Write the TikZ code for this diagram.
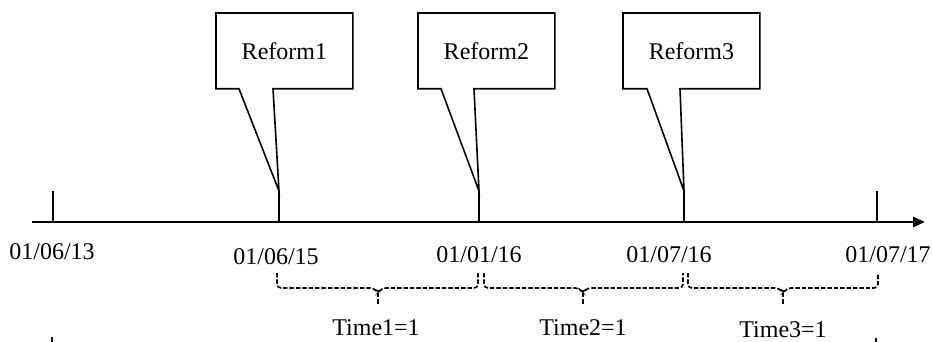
\documentclass[tikz,border=0pt]{standalone}
\usepackage{fontspec}
\setmainfont{Liberation Serif}
\usetikzlibrary{arrows.meta,positioning,calc}
\tikzset{
  calloutbox/.style={minimum width=68pt,minimum height=37.5pt,inner sep=0pt,
                     anchor=north west,font=\fontsize{12}{14}\selectfont},
  calloutline/.style={draw=black,line width=0.8pt,fill=white,line join=miter},
  axisline/.style={-{Triangle[length=6pt,width=5pt]},line width=1.4pt},
  ticksline/.style={line width=1.2pt},
  datelabel/.style={font=\fontsize{12}{14}\selectfont,inner sep=0pt},
  spanbrace/.style={line width=0.8pt,dash pattern=on 2.2pt off 1pt,rounded corners=2pt},
  spanlabel/.style={font=\fontsize{12}{14}\selectfont,inner sep=0pt}
}
\begin{document}
\begin{tikzpicture}[x=0.5pt,y=-0.5pt]
    \useasboundingbox (0,0) rectangle (932,342);

    % time axis
    \coordinate (axstart) at (32,222);
    \coordinate (axend) at (925,222);
    \draw[axisline] (axstart) -- (axend);

    % ticks on the axis
    \coordinate (t0) at (53,222);  \coordinate (t0top) at (53,191);
    \coordinate (t1) at (279,222); \coordinate (t1top) at (279,191);
    \coordinate (t2) at (479,222); \coordinate (t2top) at (479,191);
    \coordinate (t3) at (684,222); \coordinate (t3top) at (684,191);
    \coordinate (t4) at (877,222); \coordinate (t4top) at (877,191);
    \draw[ticksline] (t0) -- (t0top);
    \draw[ticksline] (t1) -- (t1top);
    \draw[ticksline] (t2) -- (t2top);
    \draw[ticksline] (t3) -- (t3top);
    \draw[ticksline] (t4) -- (t4top);

    % reform callouts
    \node[calloutbox] (reform1) at (216,13) {};
    \node[calloutbox] (reform2) at (418,13) {};
    \node[calloutbox] (reform3) at (623,13) {};
    \draw[calloutline] (reform1.south west) -- (reform1.north west) -- (reform1.north east)
      -- (reform1.south east) -- ($(reform1.south west)+(57,0)$) -- (t1top)
      -- ($(reform1.south west)+(23,0)$) -- cycle;
    \draw[calloutline] (reform2.south west) -- (reform2.north west) -- (reform2.north east)
      -- (reform2.south east) -- ($(reform2.south west)+(56,0)$) -- (t2top)
      -- ($(reform2.south west)+(23,0)$) -- cycle;
    \draw[calloutline] (reform3.south west) -- (reform3.north west) -- (reform3.north east)
      -- (reform3.south east) -- ($(reform3.south west)+(57,0)$) -- (t3top)
      -- ($(reform3.south west)+(24,0)$) -- cycle;
    \node[datelabel] at (reform1) {Reform1};
    \node[datelabel] at (reform2) {Reform2};
    \node[datelabel] at (reform3) {Reform3};

    % dates
    \node[datelabel] (d0) at (52,252) {01/06/13};
    \node[datelabel] (d1) at (276,257) {01/06/15};
    \node[datelabel] (d2) at (479,255) {01/01/16};
    \node[datelabel] (d3) at (669,255) {01/07/16};
    \node[datelabel] (d4) at (888,255) {01/07/17};

    % periods
    \draw[spanbrace] (277,273) -- (277,288) -- (374,288) -- (378,293) -- (382,288)
      -- (478,288) -- (478,273);
    \draw[spanbrace] (378,293) -- (378,305);
    \draw[spanbrace] (484,273) -- (484,288) -- (579,288) -- (583,293) -- (587,288)
      -- (683,288) -- (683,273);
    \draw[spanbrace] (583,293) -- (583,305);
    \draw[spanbrace] (688,273) -- (688,288) -- (779,288) -- (783,293) -- (787,288)
      -- (878,288) -- (878,273);
    \draw[spanbrace] (783,293) -- (783,305);
    \node[spanlabel] (p1) at (376,328) {Time1=1};
    \node[spanlabel] (p2) at (583,328) {Time2=1};
    \node[spanlabel] (p3) at (783,330) {Time3=1};

    % marks at the lower edge
    \draw[line width=0.6pt] (52,337) -- (52,342);
    \draw[line width=0.6pt] (876,338) -- (876,342);
  \end{tikzpicture}
\end{document}
